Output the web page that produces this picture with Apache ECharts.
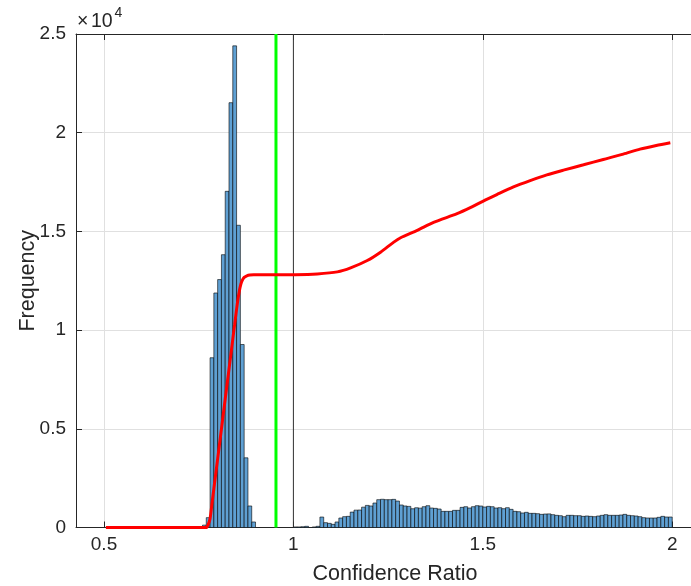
<!DOCTYPE html>
<html>
<head>
<meta charset="utf-8">
<script src="https://cdn.jsdelivr.net/npm/echarts@6/dist/echarts.min.js"></script>
<style>
  html, body { margin: 0; padding: 0; background: #fff; }
  #main { width: 691px; height: 586px; }
</style>
</head>
<body>
<div id="main"></div>
<script>
// histogram bins (left edges), bin width 0.01
var binWidth = 0.01;
var peakBins = [0.76, 0.77, 0.78, 0.79, 0.80, 0.81, 0.82, 0.83, 0.84, 0.85, 0.86, 0.87, 0.88, 0.89];
var peakCounts = [120, 500, 8600, 11880, 12560, 13820, 17030, 21520, 24400, 15310, 9270, 3530, 1090, 280];

var tailBins = [
  1.00, 1.01, 1.02, 1.03, 1.04, 1.05, 1.06, 1.07, 1.08, 1.09,
  1.10, 1.11, 1.12, 1.13, 1.14, 1.15, 1.16, 1.17, 1.18, 1.19,
  1.20, 1.21, 1.22, 1.23, 1.24, 1.25, 1.26, 1.27, 1.28, 1.29,
  1.30, 1.31, 1.32, 1.33, 1.34, 1.35, 1.36, 1.37, 1.38, 1.39,
  1.40, 1.41, 1.42, 1.43, 1.44, 1.45, 1.46, 1.47, 1.48, 1.49,
  1.50, 1.51, 1.52, 1.53, 1.54, 1.55, 1.56, 1.57, 1.58, 1.59,
  1.60, 1.61, 1.62, 1.63, 1.64, 1.65, 1.66, 1.67, 1.68, 1.69,
  1.70, 1.71, 1.72, 1.73, 1.74, 1.75, 1.76, 1.77, 1.78, 1.79,
  1.80, 1.81, 1.82, 1.83, 1.84, 1.85, 1.86, 1.87, 1.88, 1.89,
  1.90, 1.91, 1.92, 1.93, 1.94, 1.95, 1.96, 1.97, 1.98, 1.99
];
var tailCounts = [
  30, 30, 40, 60, 0, 30, 60, 530, 245, 210,
  160, 280, 480, 550, 565, 780, 880, 885, 1030, 1120,
  1090, 1240, 1410, 1430, 1410, 1410, 1425, 1340, 1140, 1090,
  1070, 950, 1000, 980, 1054, 1105, 987, 970, 936, 818,
  818, 818, 869, 869, 1020, 1054, 987, 1054, 1105, 1088,
  1037, 1071, 1054, 987, 1004, 953, 1004, 919, 818, 801,
  734, 768, 717, 717, 700, 666, 683, 690, 650, 616,
  599, 548, 616, 616, 599, 599, 565, 582, 565, 548,
  582, 616, 650, 616, 616, 616, 633, 666, 616, 599,
  582, 548, 498, 481, 481, 481, 515, 565, 531, 531
];

// red curve
var curveX = [0.505, 0.765, 0.770, 0.775, 0.780, 0.785, 0.795, 0.805, 0.815, 0.825, 0.835, 0.845, 0.852,
  0.857, 0.861, 0.865, 0.870, 0.877, 0.885, 0.895, 1.005, 1.063, 1.116, 1.151, 1.195, 1.230, 1.265, 1.283, 1.327,
  1.370, 1.432, 1.467, 1.500, 1.537, 1.581, 1.625, 1.669, 1.713, 1.766, 1.818, 1.871, 1.915, 1.958, 1.995];
var curveY = [0, 0, 0, 150, 450, 1200, 2720, 4230, 5750, 7270, 8780, 10300, 11350,
  11950, 12300, 12520, 12670, 12750, 12790, 12800, 12810, 12847, 12949, 13152, 13525, 13949, 14457, 14678, 15051,
  15457, 15898, 16203, 16525, 16864, 17254, 17576, 17864, 18102, 18373, 18644, 18915, 19170, 19356, 19492];

var greenX = 0.954;
var blackX = 1;

var xTicks = [0.5, 1, 1.5, 2];

var xMin = 0.42608;
var xMax = 2.11034;

var barData = [];
peakBins.forEach(function (b, i) { if (peakCounts[i] > 0) barData.push([b, b + binWidth, peakCounts[i]]); });
tailBins.forEach(function (b, i) { if (tailCounts[i] > 0) barData.push([b, b + binWidth, tailCounts[i]]); });

var curveData = curveX.map(function (x, i) { return [x, curveY[i]]; });

var font = "'Liberation Sans', Arial, Helvetica, sans-serif";
var axisColor = '#262626';

var myChart = echarts.init(document.getElementById('main'));

var option = {
  backgroundColor: '#fff',
  animation: false,
  grid: { left: 76, top: 34, width: 638, height: 493.5, outerBoundsMode: 'none', containLabel: false },
  graphic: [
    { type: 'text', x: 77, y: 21.5, style: { text: '×', font: '19.5px ' + font, fill: axisColor, verticalAlign: 'middle' } },
    { type: 'text', x: 91, y: 21.5, style: { text: '10', font: '19.5px ' + font, fill: axisColor, verticalAlign: 'middle' } },
    { type: 'text', x: 114.5, y: 13.5, style: { text: '4', font: '14px ' + font, fill: axisColor, verticalAlign: 'middle' } }
  ],
  xAxis: [
    {
      type: 'value', min: xMin, max: xMax, position: 'bottom',
      name: 'Confidence Ratio', nameLocation: 'middle', nameGap: 35.5, nameMoveOverlap: false,
      nameTextStyle: { fontSize: 21.5, color: axisColor, fontFamily: font },
      axisLine: { show: true, onZero: false, lineStyle: { color: axisColor, width: 1 } },
      axisTick: { show: true, inside: true, length: 6, customValues: xTicks, lineStyle: { color: axisColor } },
      axisLabel: { customValues: xTicks, fontSize: 19, color: axisColor, fontFamily: font, margin: 8,
        formatter: function (v) { return String(v); } },
      splitLine: { show: true, lineStyle: { color: '#e0e0e0', width: 1 } }
    },
    {
      type: 'value', min: xMin, max: xMax, position: 'top',
      axisLine: { show: true, onZero: false, lineStyle: { color: axisColor, width: 1 } },
      axisTick: { show: true, inside: true, length: 6, customValues: xTicks, lineStyle: { color: axisColor } },
      axisLabel: { show: false },
      splitLine: { show: false }
    }
  ],
  yAxis: {
    type: 'value', min: 0, max: 25000, interval: 5000,
    name: 'Frequency', nameLocation: 'middle', nameGap: 37, nameMoveOverlap: false,
    nameTextStyle: { fontSize: 21.5, color: axisColor, fontFamily: font },
    axisLine: { show: true, onZero: false, lineStyle: { color: axisColor, width: 1 } },
    axisTick: { show: true, inside: true, length: 6, lineStyle: { color: axisColor } },
    axisLabel: { fontSize: 19, color: axisColor, fontFamily: font, margin: 10,
      formatter: function (v) { return String(v / 10000); } },
    splitLine: { show: true, lineStyle: { color: '#e0e0e0', width: 1 } }
  },
  series: [
    {
      type: 'custom',
      clip: true,
      data: barData,
      renderItem: function (params, api) {
        var p0 = api.coord([api.value(0), api.value(2)]);
        var p1 = api.coord([api.value(1), 0]);
        return {
          type: 'rect',
          shape: { x: p0[0], y: p0[1], width: p1[0] - p0[0], height: p1[1] - p0[1] },
          style: { fill: '#5fa0d3', stroke: 'rgba(0,0,0,0.75)', lineWidth: 0.8 }
        };
      },
      z: 2
    },
    {
      type: 'line',
      data: [[greenX, 0], [greenX, 25000]],
      symbol: 'none',
      lineStyle: { color: '#00ff00', width: 3 },
      z: 3
    },
    {
      type: 'line',
      data: [[blackX, 0], [blackX, 25000]],
      symbol: 'none',
      lineStyle: { color: '#333333', width: 1 },
      z: 3
    },
    {
      type: 'line',
      data: curveData,
      symbol: 'none',
      smooth: 0.25,
      lineStyle: { color: '#ff0000', width: 3 },
      z: 4
    }
  ]
};

myChart.setOption(option);
</script>
</body>
</html>
